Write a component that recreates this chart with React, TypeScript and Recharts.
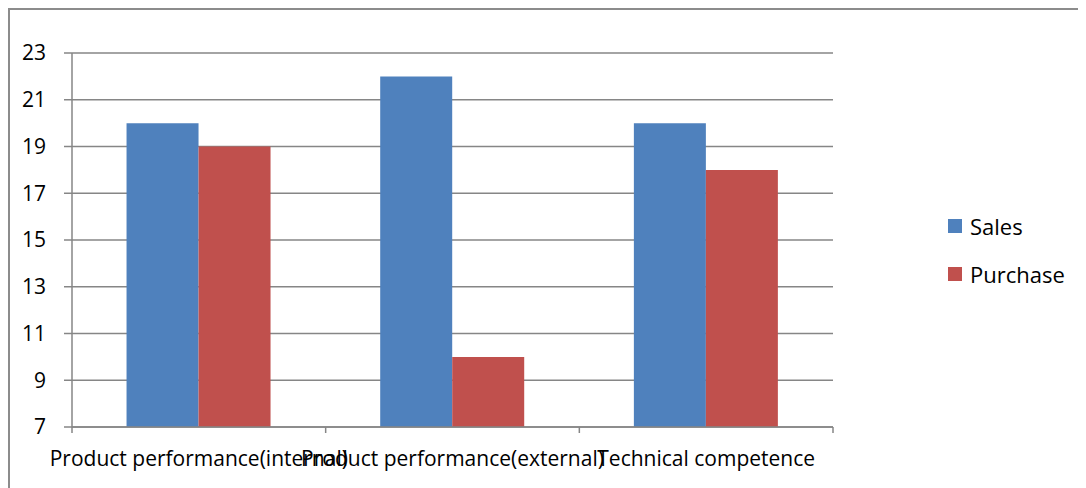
import React from 'react';
import { BarChart, Bar, XAxis, YAxis, CartesianGrid } from 'recharts';

const categories = ['Product performance(internal)', 'Product performance(external)', 'Technical competence'];
const sales = [20, 22, 20];
const purchase = [19, 10, 18];
const yTicks = [7, 9, 11, 13, 15, 17, 19, 21, 23];

const series = [
  { key: 'sales', name: 'Sales', color: '#4F81BD' },
  { key: 'purchase', name: 'Purchase', color: '#C0504D' },
];

const data = categories.map((name, i) => ({ name, sales: sales[i], purchase: purchase[i] }));

const axisColor = '#868686';
const font = '"Open Sans", sans-serif';

// category label in the middle, tick marks on the band edges
const CategoryTick = (props: any) => {
  const { x, y, payload, index } = props;
  const half = payload.offset || 126.8;
  const top = y - 8;
  return (
    <g>
      <line x1={x - half} x2={x - half} y1={top} y2={top + 6} stroke={axisColor} strokeWidth={1.5} />
      {index === categories.length - 1 && (
        <line x1={x + half} x2={x + half} y1={top} y2={top + 6} stroke={axisColor} strokeWidth={1.5} />
      )}
      <text x={x} y={y + 31} textAnchor="middle" fontSize={21} fill="#000" fontFamily={font}>
        {payload.value}
      </text>
    </g>
  );
};

export default function App() {
  return (
    <div
      style={{
        position: 'relative',
        width: 1076,
        height: 478,
        borderTop: '2px solid #8c8c8c',
        borderLeft: '2px solid #8c8c8c',
        fontFamily: font,
      }}
    >
      <BarChart
        width={1076}
        height={478}
        data={data}
        margin={{ top: 43, right: 253, left: 12, bottom: 21 }}
        barCategoryGap="21.5%"
        barGap={0}
      >
        <CartesianGrid vertical={false} stroke={axisColor} strokeWidth={1.5} />
        <XAxis
          dataKey="name"
          height={40}
          interval={0}
          tickLine={false}
          axisLine={{ stroke: axisColor, strokeWidth: 1.5 }}
          tick={<CategoryTick />}
        />
        <YAxis
          domain={[7, 23]}
          ticks={yTicks}
          interval={0}
          width={50}
          tickSize={8}
          tickMargin={18}
          axisLine={{ stroke: axisColor, strokeWidth: 1.5 }}
          tickLine={{ stroke: axisColor, strokeWidth: 1.5 }}
          tick={{ fill: '#000', fontSize: 21, fontFamily: font }}
        />
        {series.map((s) => (
          <Bar key={s.key} dataKey={s.key} name={s.name} fill={s.color} isAnimationActive={false} />
        ))}
      </BarChart>
      <div style={{ position: 'absolute', left: 938, top: 192 }}>
        {series.map((s) => (
          <div key={s.key} style={{ display: 'flex', alignItems: 'center', height: 48 }}>
            <span style={{ width: 14, height: 14, background: s.color, marginRight: 8 }} />
            <span style={{ fontSize: 22, color: '#000' }}>{s.name}</span>
          </div>
        ))}
      </div>
    </div>
  );
}
